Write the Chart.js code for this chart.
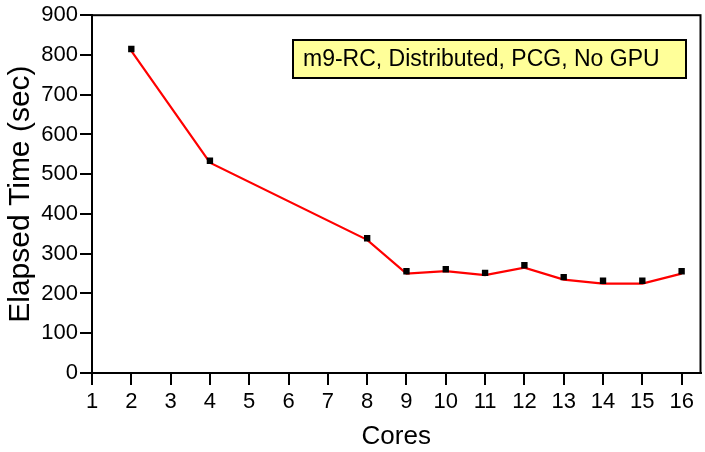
<!DOCTYPE html>
<html lang="en">
<head>
    <meta charset="UTF-8" />
    <title>Elapsed Time vs Cores</title>
    <script src="https://cdn.jsdelivr.net/npm/chart.js"></script>
    <style>
        html, body { margin: 0; padding: 0; background: #fff; }
        #wrap { width: 705px; height: 452px; }
    </style>
</head>
<body>
    <div id="wrap"><canvas id="timeChart" width="705" height="452"></canvas></div>

    <script>
        // data
        const cores = [2, 4, 8, 9, 10, 11, 12, 13, 14, 15, 16];
        const measured = [815, 534, 339, 256, 261, 252, 271, 241, 232, 232, 256];
        const fitted = [810, 529, 335, 250, 256, 246, 265, 235, 225, 225, 250];
        const xTicks = [1, 2, 3, 4, 5, 6, 7, 8, 9, 10, 11, 12, 13, 14, 15, 16];
        const yTicks = [0, 100, 200, 300, 400, 500, 600, 700, 800, 900];
        const noteText = 'm9-RC, Distributed, PCG, No GPU';

        const FONT = 'Liberation Sans, Arial, Helvetica, sans-serif';

        // frame around plot area + yellow note box
        const frameAndNote = {
            id: 'frameAndNote',
            afterDatasetsDraw(chart) {
                const { ctx, chartArea: a } = chart;
                ctx.save();
                ctx.strokeStyle = '#000';
                ctx.lineWidth = 2;
                ctx.strokeRect(a.left, a.top, a.right - a.left, a.bottom - a.top);

                // note box
                const bx = 293, by = 40, bw = 393, bh = 38;
                ctx.fillStyle = '#ffff99';
                ctx.fillRect(bx, by, bw, bh);
                ctx.lineWidth = 2;
                ctx.strokeRect(bx, by, bw, bh);
                ctx.fillStyle = '#000';
                ctx.font = '23px ' + FONT;
                ctx.textBaseline = 'middle';
                ctx.fillText(noteText, bx + 10, by + bh / 2 + 1);
                ctx.restore();
            }
        };

        const config = {
            type: 'line',
            data: {
                datasets: [{
                    label: 'line',
                    data: cores.map((c, i) => ({ x: c, y: fitted[i] })),
                    borderColor: '#ff0000',
                    borderWidth: 2.2,
                    pointRadius: 0,
                    tension: 0,
                    order: 2
                }, {
                    label: 'measured',
                    data: cores.map((c, i) => ({ x: c, y: measured[i] })),
                    showLine: false,
                    pointStyle: 'rect',
                    pointRadius: 4.5,
                    pointBackgroundColor: '#000',
                    pointBorderWidth: 0,
                    order: 1
                }]
            },
            options: {
                responsive: false,
                animation: false,
                layout: { padding: { top: 14, right: 3, left: 0, bottom: 0 } },
                plugins: {
                    legend: { display: false },
                    tooltip: { enabled: false }
                },
                scales: {
                    x: {
                        type: 'linear',
                        min: 1,
                        max: 16.48,
                        afterBuildTicks: (s) => { s.ticks = xTicks.map(v => ({ value: v })); },
                        afterFit: (s) => { s.height = 79; },
                        border: { display: true, color: '#000', width: 2 },
                        grid: { drawOnChartArea: false, color: '#000', lineWidth: 2, tickLength: 12 },
                        ticks: { color: '#000', font: { family: FONT, size: 22 }, padding: 4, maxRotation: 0, autoSkip: false },
                        title: { display: true, text: 'Cores', color: '#000', font: { family: FONT, size: 26 }, padding: { top: 0, bottom: 0 } }
                    },
                    y: {
                        min: 0,
                        max: 900,
                        afterBuildTicks: (s) => { s.ticks = yTicks.map(v => ({ value: v })); },
                        afterFit: (s) => { s.width = 92; },
                        border: { display: true, color: '#000', width: 2 },
                        grid: { drawOnChartArea: false, color: '#000', lineWidth: 2, tickLength: 12 },
                        ticks: { color: '#000', font: { family: FONT, size: 22 }, padding: 2 },
                        title: { display: true, text: 'Elapsed Time (sec)', color: '#000', font: { family: FONT, size: 30 }, padding: { top: 3, bottom: 0 } }
                    }
                }
            },
            plugins: [frameAndNote]
        };

        new Chart(document.getElementById('timeChart').getContext('2d'), config);
    </script>
</body>
</html>
